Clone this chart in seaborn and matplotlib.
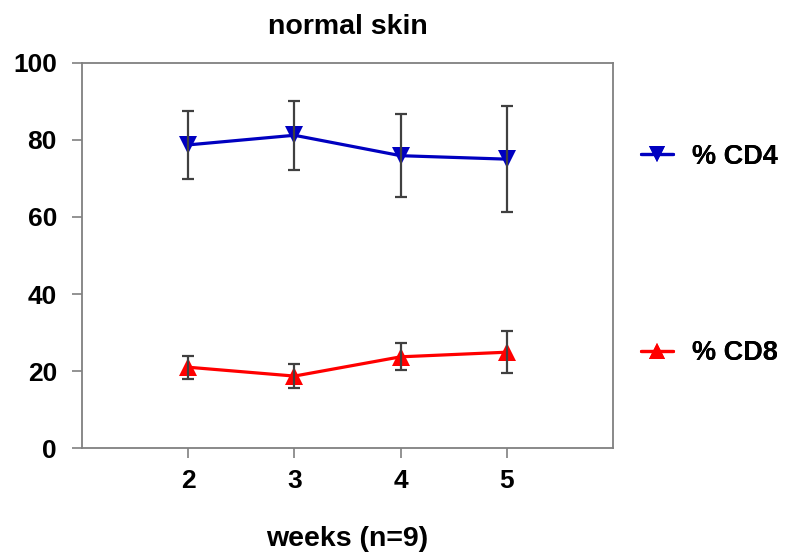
import pandas as pd
import seaborn as sns
import matplotlib.pyplot as plt
from matplotlib.lines import Line2D

weeks = [2, 3, 4, 5]
cd4_mean = [78.7, 81.2, 75.9, 75.0]
cd4_err = [8.8, 9.0, 10.8, 13.7]
cd8_mean = [21.0, 18.7, 23.7, 24.9]
cd8_err = [3.0, 3.1, 3.5, 5.5]


def main():
    df = pd.DataFrame({
        'week': weeks * 2,
        'value': cd4_mean + cd8_mean,
        'err': cd4_err + cd8_err,
        'cell': ['% CD4'] * 4 + ['% CD8'] * 4,
    })

    sns.set_style('white')
    plt.rcParams['font.family'] = ['Liberation Sans', 'DejaVu Sans']
    plt.rcParams['font.weight'] = 'bold'
    plt.rcParams['text.color'] = 'black'
    plt.rcParams['axes.labelcolor'] = 'black'

    fig = plt.figure(figsize=(7.88, 5.56), dpi=100)
    ax = fig.add_axes([0.104, 0.194, 0.674, 0.693])

    colors = {'% CD4': '#0000c0', '% CD8': '#ff0000'}
    markers = {'% CD4': 'v', '% CD8': '^'}

    sns.lineplot(data=df, x='week', y='value', hue='cell', style='cell',
                 palette=colors, markers=markers, dashes=False,
                 markersize=13, markeredgewidth=0, linewidth=2.3,
                 legend=False, ax=ax, zorder=2)

    # error bars (mean +/- SD)
    ax.errorbar(df['week'], df['value'], yerr=df['err'], fmt='none',
                ecolor='#404040', elinewidth=1.6, capsize=4.5, capthick=1.6,
                zorder=3)

    ax.set_xlim(1, 6)
    ax.set_ylim(0, 100)
    ax.set_xticks(weeks)
    ax.set_yticks([0, 20, 40, 60, 80, 100])
    ax.tick_params(axis='both', labelsize=19, length=7, width=1.2,
                   color='#808080', labelcolor='black', direction='out',
                   left=True, bottom=True)
    ax.tick_params(axis='x', pad=8)
    ax.tick_params(axis='y', pad=11)
    for lab in ax.get_xticklabels() + ax.get_yticklabels():
        lab.set_fontweight('bold')
    for sp in ax.spines.values():
        sp.set_color('#808080')
        sp.set_linewidth(1.3)

    ax.set_title('normal skin', fontsize=20.5, fontweight='bold', pad=21)
    ax.set_xlabel('weeks (n=9)', fontsize=20.5, fontweight='bold', labelpad=24)
    ax.set_ylabel('')

    # legend entries placed beside their lines
    for cell, ypos in [('% CD4', 0.718), ('% CD8', 0.365)]:
        h = Line2D([], [], color=colors[cell], marker=markers[cell],
                   markersize=11, linewidth=2.3, markeredgewidth=0)
        leg = fig.legend([h], [cell], loc='center left',
                         bbox_to_anchor=(0.813, ypos), frameon=False,
                         prop={'size': 19.5, 'weight': 'bold'},
                         borderpad=0, borderaxespad=0,
                         handlelength=1.2, handletextpad=0.7)
        fig.add_artist(leg)

    fig.savefig('out.png', dpi=100)
    plt.close(fig)


if __name__ == "__main__":
    main()
